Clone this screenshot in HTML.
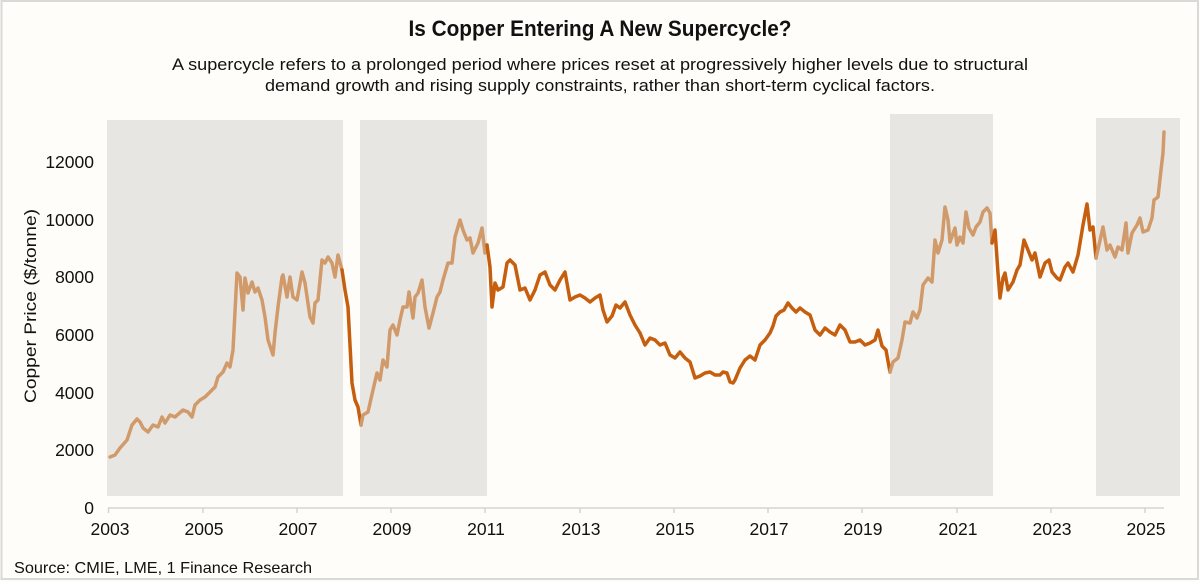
<!DOCTYPE html>
<html><head><meta charset="utf-8"><style>
html,body{margin:0;padding:0;background:#fffdf9;}
svg{display:block;font-family:"Liberation Sans",Arial,sans-serif;}
</style></head><body>
<svg width="1200" height="582" viewBox="0 0 1200 582" xmlns="http://www.w3.org/2000/svg">
<rect width="1200" height="582" fill="#fffdf9"/>
<rect x="1.5" y="1" width="1196.5" height="578" fill="none" stroke="#d9d9d9" stroke-width="2"/>
<text x="600" y="36" text-anchor="middle" font-size="22" font-weight="bold" fill="#111" textLength="383" lengthAdjust="spacingAndGlyphs">Is Copper Entering A New Supercycle?</text>
<text x="600" y="70" text-anchor="middle" font-size="17" fill="#111" textLength="856" lengthAdjust="spacingAndGlyphs">A supercycle refers to a prolonged period where prices reset at progressively higher levels due to structural</text>
<text x="600" y="91" text-anchor="middle" font-size="17" fill="#111" textLength="670" lengthAdjust="spacingAndGlyphs">demand growth and rising supply constraints, rather than short-term cyclical factors.</text>
<g fill="#e8e6e3">
<rect x="107" y="120" width="236" height="376"/>
<rect x="360" y="120" width="127" height="376"/>
<rect x="890" y="114" width="103" height="382"/>
<rect x="1096" y="118" width="84" height="378"/>
</g>
<g font-size="17.5" fill="#111" text-anchor="end">
<text x="94" y="514">0</text><text x="94" y="456">2000</text><text x="94" y="399">4000</text><text x="94" y="341">6000</text><text x="94" y="283">8000</text><text x="94" y="226">10000</text><text x="94" y="168">12000</text>
</g>
<text transform="translate(36,306) rotate(-90)" text-anchor="middle" font-size="17" fill="#111" textLength="194" lengthAdjust="spacingAndGlyphs">Copper Price ($/tonne)</text>
<line x1="108" y1="508" x2="1164" y2="508" stroke="#d4d4d4" stroke-width="1.5"/>
<g stroke="#d4d4d4" stroke-width="1.5">
<line x1="108.5" y1="508" x2="108.5" y2="513"/><line x1="203" y1="508" x2="203" y2="513"/><line x1="297" y1="508" x2="297" y2="513"/><line x1="391" y1="508" x2="391" y2="513"/><line x1="485" y1="508" x2="485" y2="513"/><line x1="580" y1="508" x2="580" y2="513"/><line x1="674" y1="508" x2="674" y2="513"/><line x1="768" y1="508" x2="768" y2="513"/><line x1="862" y1="508" x2="862" y2="513"/><line x1="957" y1="508" x2="957" y2="513"/><line x1="1051" y1="508" x2="1051" y2="513"/><line x1="1145" y1="508" x2="1145" y2="513"/>
</g>
<g font-size="17.5" fill="#111" text-anchor="middle">
<text x="110" y="535">2003</text><text x="204" y="535">2005</text><text x="298" y="535">2007</text><text x="392" y="535">2009</text><text x="486" y="535">2011</text><text x="581" y="535">2013</text><text x="675" y="535">2015</text><text x="769" y="535">2017</text><text x="863" y="535">2019</text><text x="958" y="535">2021</text><text x="1052" y="535">2023</text><text x="1146" y="535">2025</text>
</g>
<text x="14" y="573" font-size="16" fill="#111" textLength="298" lengthAdjust="spacingAndGlyphs">Source: CMIE, LME, 1 Finance Research</text>
<g fill="none" stroke-width="3.5" stroke-linejoin="round" stroke-linecap="round">
<polyline stroke="#d19a6a" points="110,457 115,455 120,448 127,440 132,425 137,419 140,422 143,428 148,432 153,425 158,427 162,417 165,423 170,415 175,417 183,410 188,412 192,417 195,405 200,400 205,397 210,392 215,387 218,377 223,372 227,363 230,367 233,350 237,273 240,277 243,310 245,278 248,293 252,282 255,292 258,288 262,300 265,317 268,340 273,355 275,333 278,307 282,277 283,275 287,297 290,277 293,297 297,300 302,272 305,283 310,317 313,323 315,303 318,300 322,260 325,263 328,257 332,263 335,277 338,255 342,270"/>
<polyline stroke="#c55f0f" points="342,270 345,290 348,307 352,383 355,400 358,407 361,425"/>
<polyline stroke="#d19a6a" points="361,425 363,415 368,412 373,390 377,373 380,380 383,360 387,367 390,330 393,325 397,335 400,320 403,307 407,307 409,292 413,318 415,297 418,293 422,280 425,307 429,328 433,313 437,297 440,292 443,280 448,263 452,263 455,237 460,220 463,230 467,240 470,238 473,253 478,243 482,228 485,253 487,245"/>
<polyline stroke="#c55f0f" points="487,245 490,267 492,307 495,283 498,290 503,287 507,263 510,260 515,265 520,290 525,288 530,300 535,290 540,275 545,272 550,285 555,290 560,280 565,272 570,300 575,297 580,295 585,298 590,302 595,298 600,295 603,310 607,322 612,316 616,305 620,308 625,302 630,315 635,325 640,333 645,345 650,338 655,340 660,345 665,343 670,355 675,358 680,352 685,358 690,362 695,378 700,376 705,373 710,372 715,375 720,375 723,372 727,373 730,382 733,383 735,380 740,368 745,360 750,356 755,360 760,345 765,340 770,333 773,326 776,316 780,312 784,310 788,303 792,308 796,312 800,308 805,312 810,315 815,330 820,335 825,328 830,332 835,335 840,325 845,330 850,342 855,342 860,340 865,345 870,343 875,340 878,330 882,346 886,350 890,372"/>
<polyline stroke="#d19a6a" points="890,372 893,362 898,358 902,340 905,322 910,323 913,312 917,318 920,310 923,285 928,278 932,282 935,240 938,253 942,240 945,207 948,220 950,242 955,228 957,245 960,237 963,243 966,212 969,228 973,235 976,227 980,222 983,212 987,208 990,213 992,243"/>
<polyline stroke="#c55f0f" points="992,243 995,230 998,273 1000,298 1003,278 1005,273 1008,290 1013,282 1017,270 1020,265 1024,240 1028,250 1032,260 1035,253 1040,277 1045,263 1049,260 1052,272 1057,278 1060,280 1065,267 1068,263 1073,272 1078,255 1083,225 1087,204 1090,230 1093,227 1096,258"/>
<polyline stroke="#d19a6a" points="1096,258 1099,245 1103,227 1107,250 1110,245 1115,257 1118,247 1122,250 1126,223 1128,253 1132,233 1137,225 1140,218 1143,232 1148,230 1152,218 1154,200 1158,197 1161,170 1163,153 1164,132"/>
</g>
</svg>
</body></html>
